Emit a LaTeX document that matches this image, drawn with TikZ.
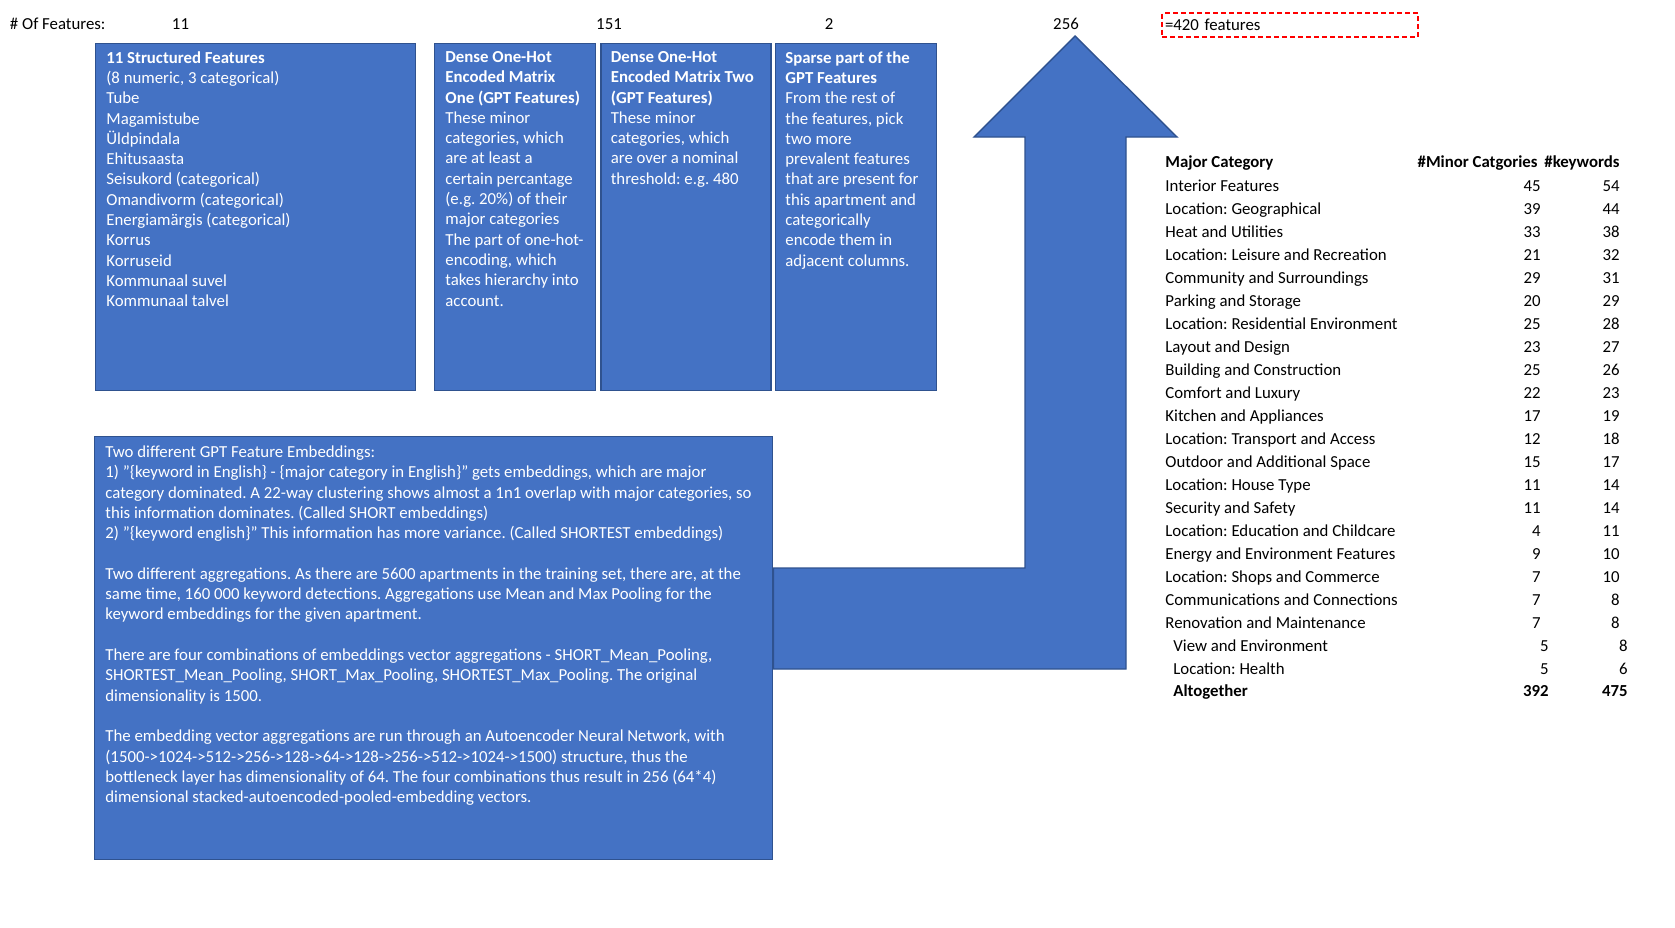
\documentclass[tikz,border=0pt]{standalone}
\usepackage{fontspec}
\setmainfont{Carlito}
\usetikzlibrary{positioning,backgrounds}
\definecolor{officeblue}{HTML}{4472C4}
\definecolor{officeedge}{HTML}{2F528F}
\frenchspacing
\begin{document}
\begin{tikzpicture}[x=0.5pt, y=-0.5pt,
  every node/.style={font=\fontsize{8.4}{10.15}\selectfont, inner sep=0pt},
  featbox/.style={rectangle, draw=officeedge, fill=officeblue, line width=0.7pt, anchor=north west, minimum height=173.5pt},
  boxtext/.style={anchor=north west, align=left, text=white},
  countlabel/.style={anchor=base},
  catname/.style={anchor=base west},
  catnum/.style={anchor=base east},
  arrowshape/.style={fill=officeblue, draw=officeedge, line width=0.7pt},
]
\useasboundingbox (0,0) rectangle (1675,927);

% === Feature counts ===
\node[anchor=base west] (hdr) at (9.6,29) {\# Of Features:};
\node[countlabel] (n11) at (180.5,29) {11};
\node[countlabel] (n151) at (609,29) {151};
\node[countlabel] (n2) at (829,29) {2};
\node[countlabel] (n256) at (1066,29) {256};
\node[draw=red, line width=1pt, dash pattern=on 2.5pt off 1.5pt, anchor=north west,
  text width=125pt, inner xsep=1.5pt, minimum height=11.75pt, align=left] (total) at (1161,12) {=420 features};

% === Feature blocks ===
\node[featbox, minimum width=160pt] (struct) at (95,43) {};
\node[featbox, minimum width=80.5pt] (dense1) at (434,43) {};
\node[featbox, minimum width=85pt, right=2pt of dense1] (dense2) {};
\node[featbox, minimum width=80.5pt, right=1.35pt of dense2] (sparse) {};

\node[boxtext] (structtxt) at ([shift={(11,8)}]struct.north west)
  {\textbf{11 Structured Features}\\(8 numeric, 3 categorical)\\Tube\\Magamistube\\Üldpindala\\Ehitusaasta\\Seisukord (categorical)\\Omandivorm (categorical)\\Energiamärgis (categorical)\\Korrus\\Korruseid\\Kommunaal suvel\\Kommunaal talvel};
\node[boxtext] (dense1txt) at ([shift={(11,8)}]dense1.north west)
  {\textbf{Dense One-Hot}\\\textbf{Encoded Matrix}\\\textbf{One (GPT Features)}\\These minor\\categories, which\\are at least a\\certain percantage\\(e.g. 20\%) of their\\major categories\\The part of one-hot-\\encoding, which\\takes hierarchy into\\account.};
\node[boxtext] (dense2txt) at ([shift={(10,8)}]dense2.north west)
  {\textbf{Dense One-Hot}\\\textbf{Encoded Matrix Two}\\\textbf{(GPT Features)}\\These minor\\categories, which\\are over a nominal\\threshold: e.g. 480};
\node[boxtext] (sparsetxt) at ([shift={(10.5,8)}]sparse.north west)
  {\textbf{Sparse part of the}\\\textbf{GPT Features}\\From the rest of\\the features, pick\\two more\\prevalent features\\that are present for\\this apartment and\\categorically\\encode them in\\adjacent columns.};

% === Embedding block ===
\node[featbox, minimum width=339pt, minimum height=211.5pt] (embed) at (94,436) {};
\node[boxtext] (embedtxt) at ([shift={(11,9.5)}]embed.north west)
  {Two different GPT Feature Embeddings:\\
   1) "\{keyword in English\} - \{major category in English\}" gets embeddings, which are major\\
   category dominated. A 22-way clustering shows almost a 1n1 overlap with major categories, so\\
   this information dominates. (Called SHORT embeddings)\\
   2) "\{keyword english\}" This information has more variance. (Called SHORTEST embeddings)\\[10.15pt]
   Two different aggregations. As there are 5600 apartments in the training set, there are, at the\\
   same time, 160 000 keyword detections. Aggregations use Mean and Max Pooling for the\\
   keyword embeddings for the given apartment.\\[10.15pt]
   There are four combinations of embeddings vector aggregations - SHORT\_Mean\_Pooling,\\
   SHORTEST\_Mean\_Pooling, SHORT\_Max\_Pooling, SHORTEST\_Max\_Pooling. The original\\
   dimensionality is 1500.\\[10.15pt]
   The embedding vector aggregations are run through an Autoencoder Neural Network, with\\
   (1500->1024->512->256->128->64->128->256->512->1024->1500) structure, thus the\\
   bottleneck layer has dimensionality of 64. The four combinations thus result in 256 (64*4)\\
   dimensional stacked-autoencoded-pooled-embedding vectors.};

% === Bent arrow up to the 256 count ===
\begin{scope}[on background layer]
\path[arrowshape] (embed.east |- 0,568) -- (1025,568) -- (1025,137) -- (974,137) -- (1075,36)
  -- (1177,137) -- (1126,137) -- (1126,669) -- (embed.east |- 0,669) -- cycle;
\end{scope}

% === Category table ===
\node[catname, font=\fontsize{8.4}{10.15}\selectfont\bfseries] (majorhdr) at (1165,167) {Major Category};
\node[catnum, font=\fontsize{8.4}{10.15}\selectfont\bfseries] (minorhdr) at (1538,167) {\#Minor Catgories};
\node[catnum, font=\fontsize{8.4}{10.15}\selectfont\bfseries] (kwhdr) at (1620,167) {\#keywords};

\foreach \cat/\mnr/\kw [count=\i from 0] in {Interior Features/45/54, Location: Geographical/39/44,
  Heat and Utilities/33/38, Location: Leisure and Recreation/21/32, Community and Surroundings/29/31,
  Parking and Storage/20/29, Location: Residential Environment/25/28, Layout and Design/23/27,
  Building and Construction/25/26, Comfort and Luxury/22/23, Kitchen and Appliances/17/19,
  Location: Transport and Access/12/18, Outdoor and Additional Space/15/17, Location: House Type/11/14,
  Security and Safety/11/14, Location: Education and Childcare/4/11, Energy and Environment Features/9/10,
  Location: Shops and Commerce/7/10, Communications and Connections/7/8, Renovation and Maintenance/7/8}
{
  \node[catname] (cat\i) at (1165,191+23.02*\i) {\cat};
  \node[catnum] (mnr\i) at (1541,191+23.02*\i) {\mnr};
  \node[catnum] (kw\i) at (1620,191+23.02*\i) {\kw};
}
\foreach \cat/\mnr/\kw [count=\i from 20] in {View and Environment/5/8, Location: Health/5/6}
{
  \node[catname] (cat\i) at (1173,191+23.02*\i) {\cat};
  \node[catnum] (mnr\i) at (1549,191+23.02*\i) {\mnr};
  \node[catnum] (kw\i) at (1628,191+23.02*\i) {\kw};
}
\node[catname, font=\fontsize{8.4}{10.15}\selectfont\bfseries] (sumcat) at (1173,696) {Altogether};
\node[catnum, font=\fontsize{8.4}{10.15}\selectfont\bfseries] (summnr) at (1549,696) {392};
\node[catnum, font=\fontsize{8.4}{10.15}\selectfont\bfseries] (sumkw) at (1628,696) {475};

\end{tikzpicture}
\end{document}
